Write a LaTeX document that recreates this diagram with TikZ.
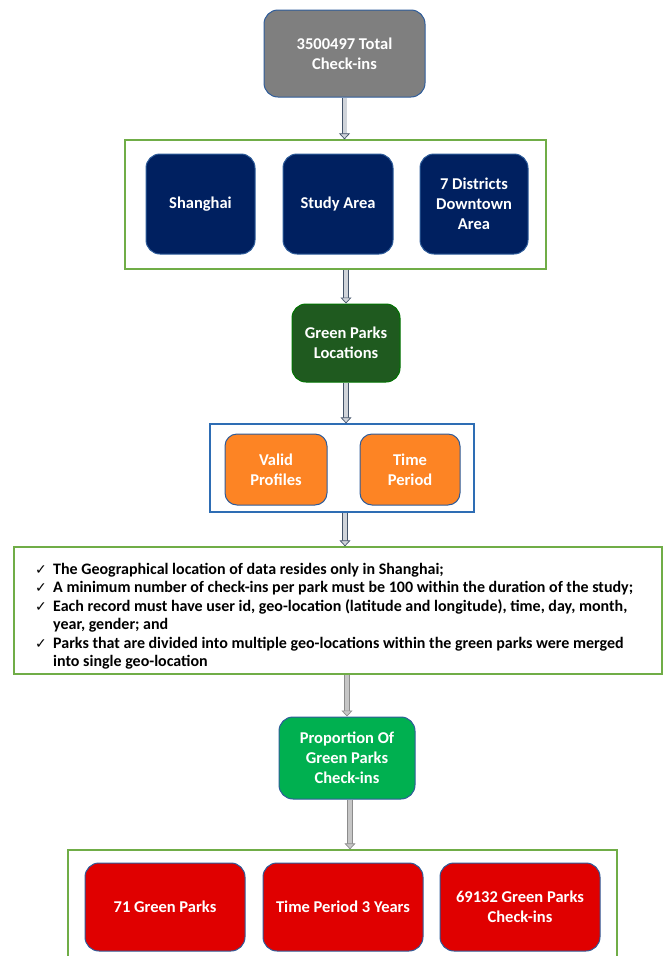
\documentclass[tikz,border=0pt]{standalone}
\usepackage{fontspec}
\setmainfont{Carlito}
\newfontfamily\symfont{DejaVu Sans}
\usetikzlibrary{arrows.meta}
\definecolor{navybox}{HTML}{002060}
\definecolor{boxedge}{HTML}{2E5C9A}
\definecolor{framegreen}{HTML}{70AD47}
\definecolor{frameblue}{HTML}{2E6DB4}
\definecolor{parkgreen}{HTML}{1F5A1F}
\definecolor{propgreen}{HTML}{00B050}
\definecolor{orangebox}{HTML}{FD8424}
\definecolor{redbox}{HTML}{E00000}
\definecolor{graybox}{HTML}{7F7F7F}
\definecolor{arrowedge}{HTML}{44546A}
\definecolor{arrowfill}{HTML}{D0D4DA}
\newcommand\chk{\makebox[18pt][l]{\symfont\mdseries\fontsize{14}{12}\selectfont ✓}}
\newcommand\chkgap{\hspace*{18pt}}
\begin{document}
\begin{tikzpicture}[x=1pt, y=-1pt,
  every node/.style={font=\bfseries\fontsize{16.5}{20}\selectfont, text=white, align=center, inner sep=0pt},
  box/.style={draw=boxedge, line width=1pt, rounded corners=14pt},
  frame/.style={draw=framegreen, line width=1.3pt},
  flow/.style={draw=arrowedge, line width=0.7pt, double=arrowfill, double distance=4pt,
    -{Triangle[open, length=6pt, width=11pt, fill=arrowfill]}},
  flowgray/.style={flow, draw=gray!90, double=gray!45, -{Triangle[open, length=6pt, width=11pt, fill=gray!45]}}]
\useasboundingbox (0,0) rectangle (663,956);
% Total check-ins
\node[box, fill=graybox, minimum width=161pt, minimum height=87pt] (tot) at (344.5,53.5) {3500497 Total\\Check-ins};
% Study area
\node[frame, minimum width=421pt, minimum height=129pt] (area) at (335.5,204.5) {};
\node[box, fill=navybox, minimum width=109pt, minimum height=100pt] (sh) at (200.5,204) {Shanghai};
\node[box, fill=navybox, minimum width=110pt, minimum height=100pt] (st) at (338,204) {Study Area};
\node[box, fill=navybox, minimum width=108pt, minimum height=100pt] (dt) at (474,204) {7 Districts\\Downtown\\Area};
% Green parks
\node[box, draw=green!45!black, fill=parkgreen, minimum width=108pt, minimum height=78pt] (gp) at (346,343) {Green Parks\\Locations};
% Filters
\node[draw=frameblue, line width=1.3pt, minimum width=264pt, minimum height=88pt] (filt) at (342,468) {};
\node[box, rounded corners=12pt, fill=orangebox, minimum width=102pt, minimum height=71pt] (vp) at (276,469.5) {Valid\\Profiles};
\node[box, rounded corners=12pt, fill=orangebox, minimum width=100pt, minimum height=71pt] (tp) at (410,469.5) {Time\\Period};
% Rules
\node[frame, minimum width=648pt, minimum height=127pt] (rules) at (338,610.5) {};
\node[anchor=north west, text=black, align=left,
  font=\bfseries\fontsize{16}{18.5}\selectfont] (rtext) at (35,563) {%
  \chk The Geographical location of data resides only in Shanghai;\\
  \chk A minimum number of check-ins per park must be 100 within the duration of the study;\\
  \chk Each record must have user id, geo-location (latitude and longitude), time, day, month,\\
  \chkgap year, gender; and\\
  \chk Parks that are divided into multiple geo-locations within the green parks were merged\\
  \chkgap into single geo-location};
% Proportion
\node[box, fill=propgreen, minimum width=136pt, minimum height=82pt] (prop) at (347,758) {Proportion Of\\Green Parks\\Check-ins};
% Results
\node[frame, minimum width=549pt, minimum height=120pt] (res) at (342.5,910) {};
\node[box, fill=redbox, minimum width=160pt, minimum height=88pt] (r1) at (165,907) {71 Green Parks};
\node[box, fill=redbox, minimum width=160pt, minimum height=88pt] (r2) at (343,907) {Time Period 3 Years};
\node[box, fill=redbox, minimum width=160pt, minimum height=88pt] (r3) at (520,907) {69132 Green Parks\\Check-ins};
% Arrows
\draw[flow] (tot.south) -- (tot.south |- area.north);
\draw[flow] (gp.north |- area.south) -- (gp.north);
\draw[flow] (gp.south) -- (gp.south |- filt.north);
\draw[flow] ([xshift=3pt]filt.south) -- ([xshift=3pt]filt.south |- rules.north);
\draw[flowgray] (prop.north |- rules.south) -- (prop.north);
\draw[flowgray] ([xshift=3pt]prop.south) -- ([xshift=3pt]prop.south |- res.north);
\end{tikzpicture}
\end{document}
